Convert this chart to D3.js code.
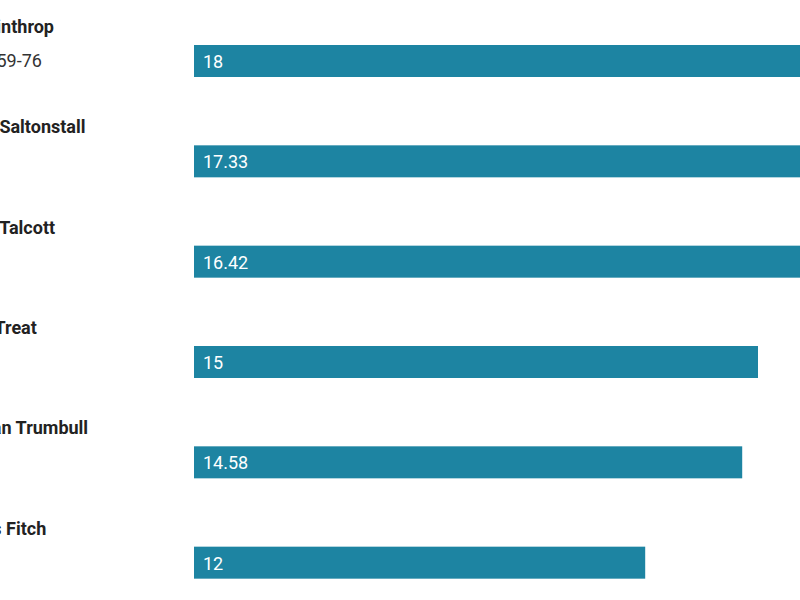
<!DOCTYPE html>
<html><head><meta charset="utf-8">
<script src="https://cdn.jsdelivr.net/npm/d3@7"></script>
<style>body{margin:0;background:#fff}svg{display:block}text{font-family:Roboto,sans-serif}</style>
</head><body><svg width="800" height="600"></svg>
<script>
const names = ["John Winthrop","Gurdon Saltonstall","Joseph Talcott","Robert Treat","Jonathan Trumbull","Thomas Fitch"];
const subtitles = ["1657, 1659-76","","","","",""];
const values = [18,17.33,16.42,15,14.58,12];

const svg = d3.select("svg");
const x = d3.scaleLinear().domain([0,15]).range([194,758]);
const y = d3.scaleBand().domain(names).range([10,612]).paddingInner(0);

const g = svg.selectAll("g.row").data(names).join("g").attr("class","row")
  .attr("transform",(d)=>`translate(0,${y(d)})`);

g.append("rect").attr("x",x(0)).attr("y",35).attr("height",32)
  .attr("width",(d,i)=>x(values[i])-x(0)).attr("fill","#1d84a2");
g.append("text").attr("x",x(0)+9).attr("y",58).attr("fill","#fff")
  .attr("font-size",18).text((d,i)=>values[i]);

const names_t = g.append("text").attr("y",23).attr("font-size",18)
  .attr("font-weight","bold").attr("fill","#222").text(d=>d);
const w0 = names_t.node().getComputedTextLength();
const x0 = 54 - w0;
names_t.attr("x",x0);
g.append("text").attr("x",x0 - 8).attr("y",57).attr("font-size",18).attr("fill","#333")
  .text((d,i)=>subtitles[i]);
</script></body></html>
